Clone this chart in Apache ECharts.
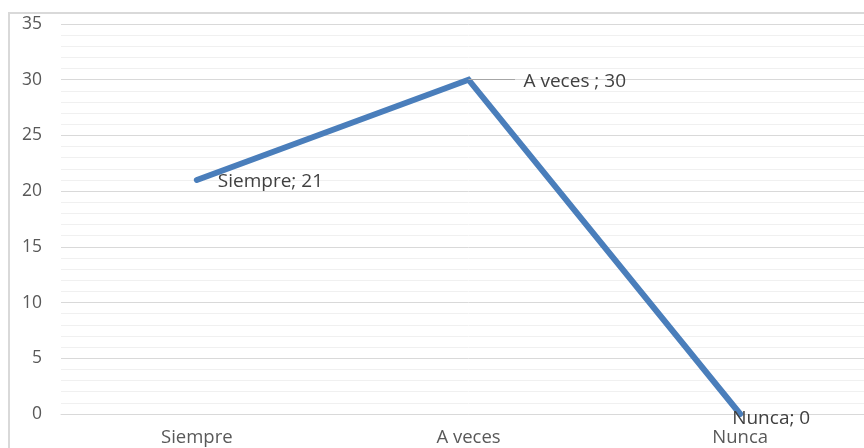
<!DOCTYPE html>
<html>
<head>
<meta charset="utf-8">
<script src="https://cdn.jsdelivr.net/npm/echarts@6/dist/echarts.min.js"></script>
<style>
  html, body { margin: 0; padding: 0; background: #fff; overflow: hidden; }
  #chart { width: 880px; height: 448px; }
</style>
</head>
<body>
<div id="chart"></div>
<script>
const categories = ['Siempre', 'A veces', 'Nunca'];
const values = [21, 30, 0];
const labelNames = ['Siempre', 'A veces ', 'Nunca'];

const chart = echarts.init(document.getElementById('chart'));

const labelOffsets = [
  { distance: 20, offset: [0, 2] },
  { distance: 54, offset: [0, 2] },
  { distance: -9, offset: [0, 5] },
];

chart.setOption({
  animation: false,
  grid: { left: 61, right: 4, top: 24, bottom: 34 },
  graphic: [{
    type: 'rect',
    shape: { x: 9, y: 13, width: 900, height: 500 },
    style: { fill: 'none', stroke: '#d9d9d9', lineWidth: 2 },
    silent: true,
  }],
  xAxis: {
    type: 'category',
    data: categories,
    boundaryGap: true,
    axisLine: { lineStyle: { color: '#d9d9d9' } },
    axisTick: { show: false },
    axisLabel: { color: '#595959', fontSize: 18.5, fontFamily: 'Open Sans', margin: 14 },
  },
  yAxis: {
    type: 'value',
    min: 0,
    max: 35,
    interval: 5,
    axisLine: { show: false },
    axisTick: { show: false },
    axisLabel: { color: '#595959', fontSize: 17.5, fontFamily: 'Open Sans', margin: 19 },
    splitLine: { lineStyle: { color: '#d9d9d9', width: 1 } },
    minorTick: { show: false, splitNumber: 5 },
    minorSplitLine: { show: true, lineStyle: { color: '#f0f0f0', width: 1 } },
  },
  series: [{
    type: 'line',
    data: values.map((v, i) => ({
      value: v,
      label: {
        show: true,
        position: 'right',
        distance: labelOffsets[i].distance,
        offset: labelOffsets[i].offset,
        formatter: labelNames[i] + '; ' + v,
      },
    })),
    showSymbol: true,
    symbol: 'circle',
    symbolSize: 2,
    itemStyle: { color: '#4a7ebb' },
    lineStyle: { color: '#4a7ebb', width: 6, cap: 'round', join: 'miter' },
    label: { color: '#404040', fontSize: 19, fontFamily: 'Open Sans' },
    markLine: {
      silent: true,
      symbol: 'none',
      label: { show: false },
      lineStyle: { color: '#a6a6a6', width: 1, type: 'solid' },
      data: [[
        { coord: [1, 30] },
        { coord: [1, 30], x: 515 },
      ]],
    },
  }],
});
</script>
</body>
</html>
